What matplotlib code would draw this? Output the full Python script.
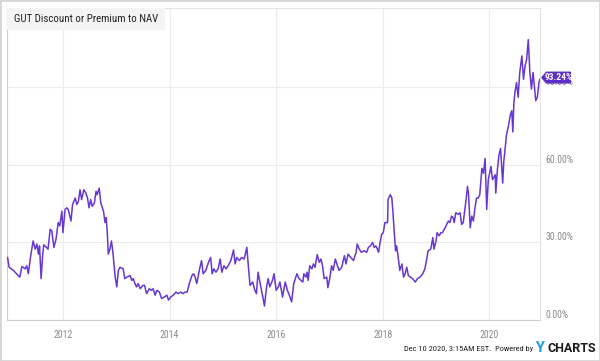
import matplotlib
matplotlib.use("Agg")
import matplotlib.pyplot as plt
import matplotlib.transforms as mtransforms
from matplotlib.patches import Polygon, Rectangle

# data (decimal year, premium to NAV in %)
years = [
    2010.96, 2010.99, 2011.07, 2011.16, 2011.19, 2011.23, 2011.29, 2011.32, 2011.35, 2011.39,
    2011.44, 2011.48, 2011.51, 2011.54, 2011.56, 2011.59, 2011.62, 2011.64, 2011.69, 2011.72,
    2011.76, 2011.79, 2011.83, 2011.87, 2011.91, 2011.94, 2011.98, 2012.00, 2012.04, 2012.07,
    2012.10, 2012.15, 2012.18, 2012.23, 2012.26, 2012.29, 2012.32, 2012.35, 2012.39, 2012.43,
    2012.46, 2012.49, 2012.52, 2012.55, 2012.59, 2012.62, 2012.64, 2012.68, 2012.71, 2012.76,
    2012.79, 2012.81, 2012.83, 2012.85, 2012.88, 2012.91, 2012.94, 2012.98, 2013.01, 2013.04,
    2013.07, 2013.13, 2013.16, 2013.20, 2013.26, 2013.29, 2013.32, 2013.35, 2013.38, 2013.41,
    2013.45, 2013.50, 2013.53, 2013.57, 2013.62, 2013.66, 2013.69, 2013.73, 2013.76, 2013.81,
    2013.85, 2013.90, 2013.95, 2013.98, 2014.02, 2014.07, 2014.12, 2014.16, 2014.21, 2014.25,
    2014.29, 2014.33, 2014.37, 2014.42, 2014.45, 2014.48, 2014.51, 2014.54, 2014.57, 2014.60,
    2014.63, 2014.68, 2014.73, 2014.77, 2014.80, 2014.83, 2014.87, 2014.91, 2014.95, 2014.98,
    2015.02, 2015.06, 2015.10, 2015.15, 2015.20, 2015.23, 2015.26, 2015.31, 2015.35, 2015.40,
    2015.45, 2015.48, 2015.51, 2015.56, 2015.60, 2015.63, 2015.66, 2015.70, 2015.75, 2015.78,
    2015.82, 2015.85, 2015.88, 2015.93, 2015.96, 2016.00, 2016.04, 2016.07, 2016.12, 2016.17,
    2016.21, 2016.26, 2016.29, 2016.33, 2016.39, 2016.43, 2016.50, 2016.52, 2016.56, 2016.58,
    2016.60, 2016.63, 2016.67, 2016.70, 2016.73, 2016.77, 2016.81, 2016.84, 2016.87, 2016.90,
    2016.95, 2016.97, 2017.01, 2017.04, 2017.07, 2017.11, 2017.15, 2017.18, 2017.23, 2017.28,
    2017.31, 2017.35, 2017.40, 2017.45, 2017.50, 2017.52, 2017.56, 2017.60, 2017.65, 2017.70,
    2017.73, 2017.77, 2017.81, 2017.84, 2017.87, 2017.90, 2017.92, 2017.95, 2017.98, 2018.01,
    2018.04, 2018.09, 2018.10, 2018.14, 2018.17, 2018.19, 2018.21, 2018.24, 2018.26, 2018.29,
    2018.32, 2018.36, 2018.39, 2018.42, 2018.45, 2018.48, 2018.52, 2018.56, 2018.61, 2018.65,
    2018.70, 2018.75, 2018.79, 2018.82, 2018.85, 2018.90, 2018.94, 2018.96, 2019.00, 2019.02,
    2019.06, 2019.09, 2019.12, 2019.17, 2019.20, 2019.23, 2019.26, 2019.29, 2019.32, 2019.34,
    2019.37, 2019.42, 2019.45, 2019.48, 2019.51, 2019.56, 2019.59, 2019.61, 2019.64, 2019.67,
    2019.70, 2019.73, 2019.76, 2019.79, 2019.82, 2019.86, 2019.89, 2019.92, 2019.95, 2019.98,
    2020.03, 2020.06, 2020.11, 2020.12, 2020.15, 2020.18, 2020.21, 2020.23, 2020.25, 2020.27,
    2020.29, 2020.32, 2020.36, 2020.39, 2020.42, 2020.44, 2020.46, 2020.48, 2020.51, 2020.54,
    2020.57, 2020.61, 2020.64, 2020.67, 2020.70, 2020.73, 2020.76, 2020.79, 2020.82, 2020.86,
    2020.87, 2020.90, 2020.93, 2020.95,
]
premium = [
    24.2, 20.4, 19.2, 17.2, 16.6, 20.7, 19.8, 21.0, 17.9, 24.2,
    30.6, 27.4, 29.4, 25.5, 28.7, 16.0, 25.5, 29.1, 28.1, 27.4,
    35.1, 34.5, 28.1, 31.3, 37.7, 36.4, 42.1, 33.8, 42.8, 43.4,
    42.8, 38.3, 44.7, 47.2, 44.7, 46.0, 50.4, 46.6, 50.4, 49.1,
    47.2, 43.4, 46.6, 44.0, 45.3, 49.8, 48.5, 51.0, 45.3, 42.1,
    37.7, 39.6, 34.5, 25.5, 27.4, 30.6, 25.5, 16.6, 12.8, 19.2,
    20.4, 19.8, 16.0, 16.6, 17.2, 15.3, 16.0, 14.1, 12.8, 14.1,
    12.1, 13.4, 13.4, 10.2, 12.1, 11.5, 12.1, 9.6, 11.5, 10.8,
    8.3, 8.9, 9.6, 7.7, 8.9, 9.6, 10.8, 10.2, 10.8, 10.2,
    10.8, 10.8, 14.1, 17.2, 17.9, 16.6, 14.1, 17.2, 20.4, 23.0,
    17.9, 19.2, 22.3, 24.2, 17.9, 19.8, 18.5, 19.8, 23.6, 18.5,
    21.0, 19.8, 21.0, 23.0, 27.1, 21.7, 24.2, 23.0, 24.2, 23.6,
    28.1, 20.4, 13.4, 14.7, 11.5, 10.2, 18.5, 14.1, 8.9, 5.4,
    12.8, 16.0, 12.8, 15.3, 17.9, 11.5, 12.8, 14.7, 8.9, 14.7,
    11.5, 8.9, 7.0, 14.1, 17.9, 16.0, 14.7, 17.9, 16.6, 18.5,
    15.3, 21.0, 19.8, 21.7, 20.4, 25.3, 22.3, 23.6, 21.0, 16.0,
    16.6, 12.5, 16.6, 21.0, 19.2, 23.6, 21.0, 19.2, 20.4, 24.9,
    21.7, 25.5, 24.2, 23.0, 26.2, 29.4, 27.4, 26.2, 26.8, 26.2,
    28.1, 28.7, 30.0, 28.1, 28.7, 27.4, 26.2, 30.0, 33.2, 33.8,
    37.7, 37.7, 46.6, 48.5, 47.2, 42.1, 35.7, 26.8, 28.7, 24.2,
    19.2, 21.7, 16.6, 17.9, 20.4, 17.2, 16.6, 16.0, 14.7, 16.0,
    16.6, 17.9, 19.8, 23.0, 26.8, 27.4, 31.9, 27.4, 30.6, 33.8,
    32.6, 33.8, 33.8, 35.7, 37.0, 38.3, 37.7, 40.2, 39.6, 37.7,
    41.5, 40.9, 41.5, 37.0, 37.7, 46.0, 51.7, 48.5, 35.7, 40.2,
    38.3, 43.4, 47.2, 47.2, 48.5, 58.7, 56.8, 62.5, 42.8, 54.3,
    59.4, 54.3, 56.2, 49.1, 58.0, 63.8, 66.4, 60.0, 53.0, 61.3,
    65.1, 71.5, 75.3, 79.0, 81.0, 72.8, 84.0, 88.1, 91.9, 86.2,
    95.8, 102.2, 93.2, 98.3, 100.9, 108.5, 95.8, 89.4, 95.8, 87.4,
    84.9, 86.2, 91.9, 93.24,
]
year_ticks = [2012, 2014, 2016, 2018, 2020]
pct_ticks = [0, 30, 60, 90]
title = "GUT Discount or Premium to NAV"
stamp = "Dec 10 2020, 3:15AM EST.  Powered by"

purple = "#6637d3"
cond = ["Roboto Condensed", "DejaVu Sans"]
plt.rcParams['font.family'] = ["Roboto", "DejaVu Sans"]

fig = plt.figure(figsize=(6, 3.61), dpi=100)
W, H = 600.0, 361.0
# plot area: x 7..540 px, y 7.6..320 px from top
ax = fig.add_axes([7 / W, 41 / H, 533 / W, 312.4 / H])

ax.plot(years, premium, color=purple, lw=1.1, solid_joinstyle="round", zorder=3)
ax.set_xlim(2010.95, 2020.95)
ax.set_ylim(0, 120.9)

ax.set_xticks(year_ticks)
ax.set_xticklabels([str(y) for y in year_ticks], family=cond)
ax.set_yticks(pct_ticks)
ax.set_yticklabels(["%.2f%%" % p for p in pct_ticks], family=cond)
ax.yaxis.tick_right()
ax.tick_params(axis="x", length=0, pad=7, labelsize=7, labelcolor="#8a8a8a")
ax.tick_params(axis="y", length=0, pad=4, labelsize=7, labelcolor="#8a8a8a")
for lbl in ax.get_yticklabels():
    lbl.set_va("bottom")
ax.grid(True, color="#ececec", lw=0.8)
for s in ax.spines.values():
    s.set_color("#e3e3e3")
    s.set_linewidth(0.8)
ax.spines["left"].set_color("#cfcfcf")
ax.spines["bottom"].set_color("#cfcfcf")

# last value tag on the right edge, drawn on the figure so it covers the 90% label
px = 1.0 / 533
py = 120.9 / 312.4
last = premium[-1]
mid = last + 1.5 * py
tr = mtransforms.blended_transform_factory(ax.transAxes, ax.transData)
tag = Polygon([(1.0 + px, mid), (1 + 6 * px, mid + 6 * py), (1 + 31 * px, mid + 6 * py),
               (1 + 31 * px, mid - 6 * py), (1 + 6 * px, mid - 6 * py)],
              closed=True, transform=tr, facecolor="#5c2fc6", edgecolor="none", zorder=10)
fig.add_artist(tag)
fig.add_artist(plt.Text(1 + 18.5 * px, mid, "%.2f%%" % last, transform=tr, ha="center",
                        va="center", fontsize=6.8, color="white", fontweight="bold",
                        family=cond, zorder=11))

# title box
fig.patches.append(Rectangle((7 / W, 1 - 29.5 / H), 158 / W, 21.5 / H, transform=fig.transFigure,
                             facecolor="#f4f4f4", edgecolor="none", zorder=1))
fig.text(14 / W, 1 - 19 / H, title, fontsize=7.8, color="#222222", va="center",
         family=cond, zorder=2)

# footer
fig.text(533 / W, 1 - 349 / H, stamp, fontsize=6, color="#222222", ha="right", va="center",
         family=cond)
fig.text(535 / W, 1 - 348.5 / H, "Y", fontsize=10.5, color="#1e9be8", fontweight="bold",
         ha="left", va="center")
fig.text(547 / W, 1 - 348.5 / H, "CHARTS", fontsize=9, color="#1a1a1a", fontweight="bold",
         ha="left", va="center")

# outer frame
fig.patches.append(Rectangle((0, 0), 1, 1, transform=fig.transFigure, facecolor="none",
                             edgecolor="#d6d6d6", lw=2.0, zorder=0))

fig.savefig("out.png", dpi=100)
